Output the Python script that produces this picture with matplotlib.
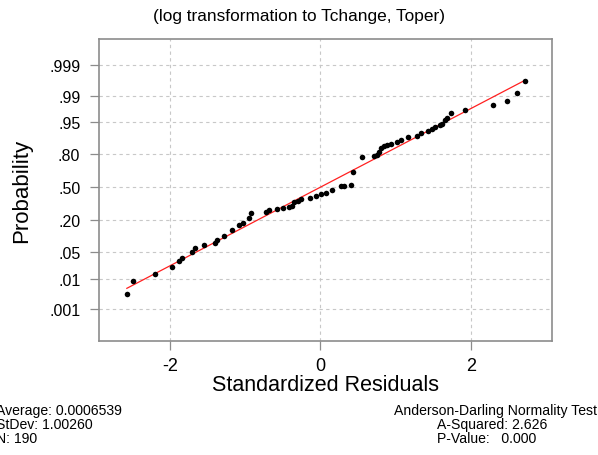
"""
Normal probability plot of standardized residuals
(log transformation to Tchange, Toper).
Writes out.png (598x456).
"""
from statistics import NormalDist

import numpy as np
import matplotlib
matplotlib.use("Agg")
import matplotlib.pyplot as plt

plt.rcParams["font.family"] = ["Liberation Sans", "DejaVu Sans"]

# points (standardized residual, plotted probability)
residuals = [-2.57, -2.49, -2.19, -1.97, -1.88, -1.84, -1.70, -1.67, -1.54, -1.40,
             -1.37, -1.28, -1.17, -1.08, -1.03, -0.94, -0.92, -0.72, -0.68, -0.58,
             -0.49, -0.41, -0.37, -0.35, -0.30, -0.25, -0.13, -0.05, 0.01, 0.07,
             0.16, 0.28, 0.32, 0.41, 0.44, 0.56, 0.72, 0.75, 0.78, 0.81,
             0.85, 0.89, 0.94, 1.02, 1.07, 1.16, 1.29, 1.34, 1.43, 1.48,
             1.53, 1.59, 1.62, 1.66, 1.68, 1.74, 1.92, 2.30, 2.48, 2.61,
             2.72]
probability = [0.0034, 0.0089, 0.014, 0.022, 0.031, 0.036, 0.050, 0.061, 0.071, 0.079,
               0.092, 0.107, 0.139, 0.171, 0.183, 0.218, 0.257, 0.263, 0.280, 0.291,
               0.297, 0.306, 0.320, 0.357, 0.367, 0.383, 0.396, 0.416, 0.429, 0.442,
               0.476, 0.508, 0.516, 0.523, 0.654, 0.781, 0.784, 0.794, 0.817, 0.843,
               0.855, 0.860, 0.864, 0.876, 0.885, 0.898, 0.905, 0.915, 0.924, 0.931,
               0.936, 0.943, 0.946, 0.956, 0.960, 0.970, 0.975, 0.981, 0.986, 0.9915,
               0.9966]

prob_ticks = [0.001, 0.01, 0.05, 0.20, 0.50, 0.80, 0.95, 0.99, 0.999]
prob_labels = [".001", ".01", ".05", ".20", ".50", ".80", ".95", ".99", ".999"]
x_ticks = [-2, 0, 2]

mean = 0.0006539
stdev = 1.00260
n_obs = 190
a_squared = 2.626
p_value = 0.000

_nd = NormalDist()
_ppf = np.vectorize(_nd.inv_cdf, otypes=[float])
_cdf = np.vectorize(_nd.cdf, otypes=[float])


def to_normal(p):
    p = np.clip(np.asarray(p, dtype=float), 1e-12, 1 - 1e-12)
    return _ppf(p)


def from_normal(q):
    return _cdf(np.asarray(q, dtype=float))


def main():
    fig = plt.figure(figsize=(5.98, 4.56), dpi=100)
    ax = fig.add_axes([99 / 598, 1 - 342 / 456, 453 / 598, 302 / 456])
    ax.set_yscale("function", functions=(to_normal, from_normal))

    gray = "#8c8c8c"
    # fitted normal line over the range of the data
    fit = NormalDist(mean, stdev)
    xs = np.linspace(min(residuals), max(residuals), 50)
    ax.plot(xs, [fit.cdf(v) for v in xs], color="#ff2020", lw=0.9, zorder=3)
    ax.scatter(residuals, probability, s=16, color="black", linewidths=0, zorder=4)

    ax.set_xlim(-2.94, 3.08)
    ax.set_ylim(from_normal(-3.90), from_normal(3.76))
    ax.set_xticks(x_ticks)
    ax.set_xticklabels([str(t) for t in x_ticks], fontsize=13)
    ax.set_yticks(prob_ticks)
    ax.set_yticklabels(prob_labels, fontsize=11.5)
    ax.yaxis.set_minor_locator(matplotlib.ticker.NullLocator())

    ax.grid(True, color="#c8c8c8", linestyle=(0, (3, 3)), linewidth=0.8, zorder=1)
    ax.set_axisbelow(True)
    for sp in ax.spines.values():
        sp.set_color(gray)
        sp.set_linewidth(1.2)
    ax.tick_params(axis="both", direction="out", length=6.5, width=0.9, color=gray)
    ax.tick_params(axis="x", pad=5)
    ax.tick_params(axis="y", pad=7)

    ax.set_xlabel("Standardized Residuals", fontsize=15.5, labelpad=0)
    ax.set_ylabel("Probability", fontsize=16, labelpad=12)
    fig.text(0.5, 1 - 17 / 456, "(log transformation to Tchange, Toper)",
             ha="center", va="center", fontsize=12.4)

    # summary statistics below the plot
    fs = 10.1
    fig.text(-0.006, 1 - 411 / 456, f"Average: {mean:.7f}", ha="left", va="center", fontsize=fs)
    fig.text(-0.006, 1 - 425 / 456, f"StDev: {stdev:.5f}", ha="left", va="center", fontsize=fs)
    fig.text(-0.006, 1 - 439 / 456, f"N: {n_obs}", ha="left", va="center", fontsize=fs)
    fig.text(597 / 598, 1 - 411 / 456, "Anderson-Darling Normality Test",
             ha="right", va="center", fontsize=fs)
    fig.text(437 / 598, 1 - 425 / 456, f"A-Squared: {a_squared:.3f}",
             ha="left", va="center", fontsize=fs)
    fig.text(437 / 598, 1 - 439 / 456, f"P-Value:   {p_value:.3f}",
             ha="left", va="center", fontsize=fs)

    fig.savefig("out.png", dpi=100)
    plt.close(fig)


if __name__ == "__main__":
    main()
